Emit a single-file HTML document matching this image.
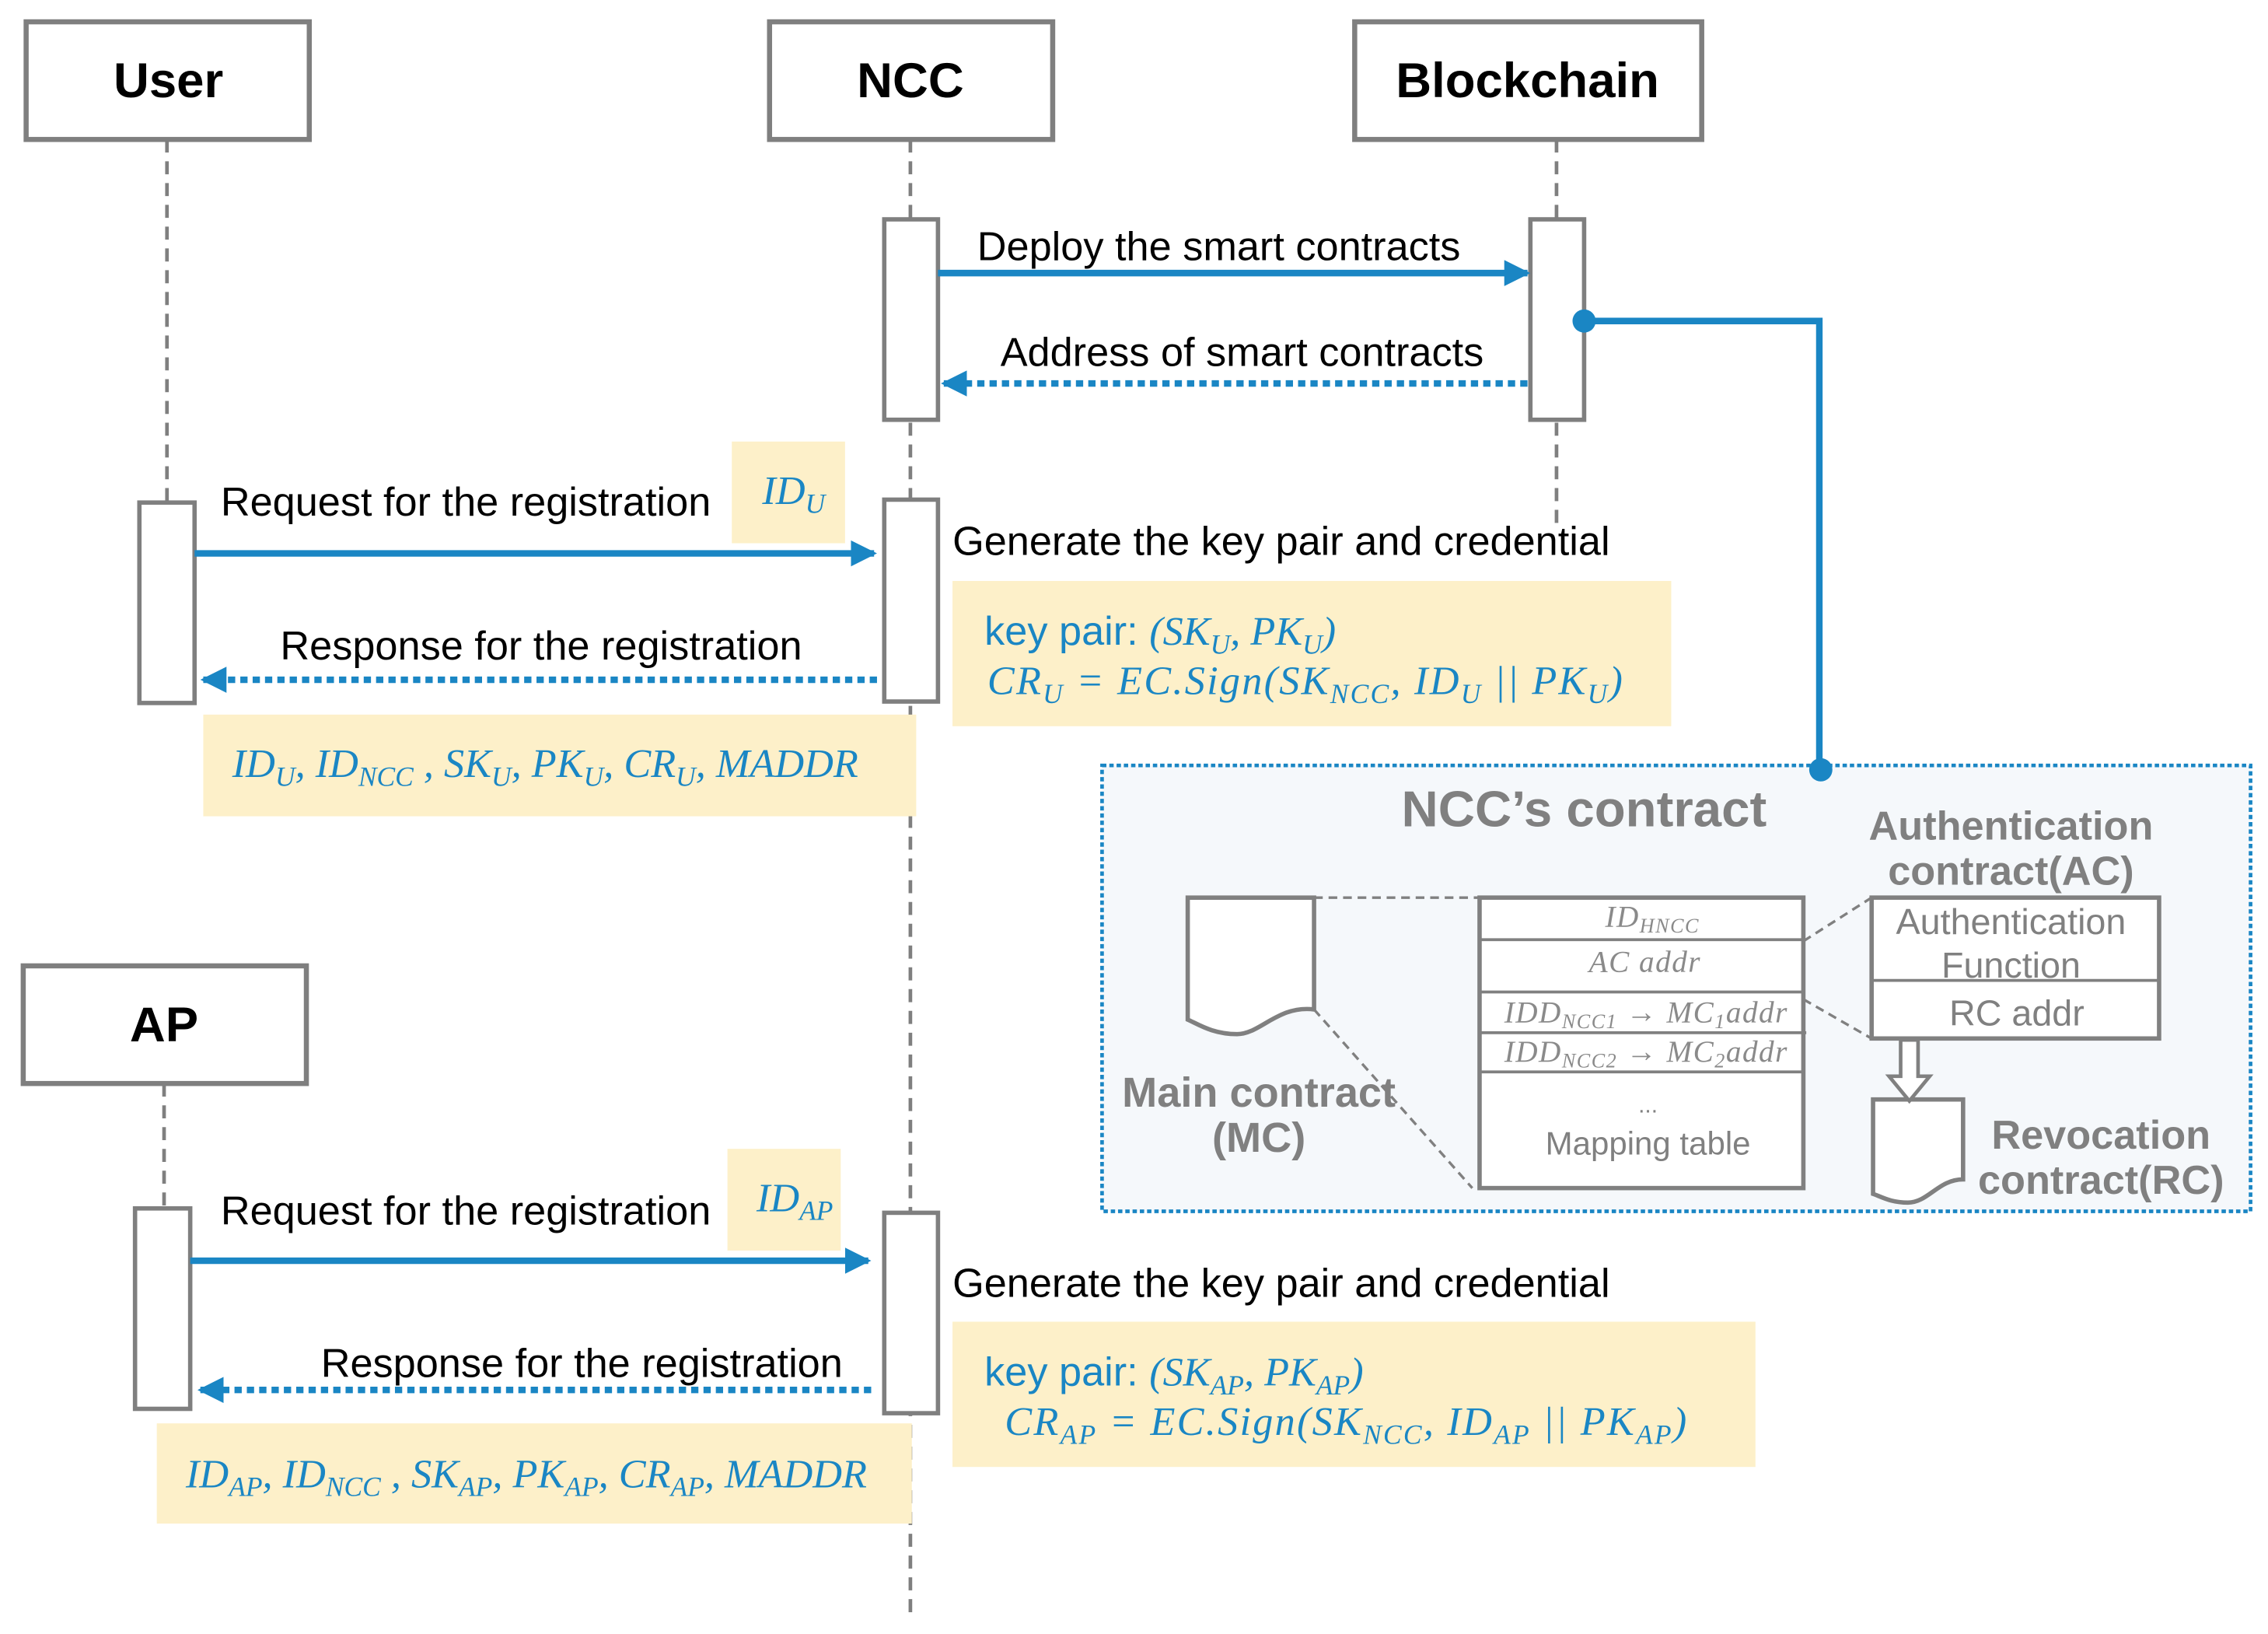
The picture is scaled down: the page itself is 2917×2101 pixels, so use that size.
<!DOCTYPE html>
<html><head><meta charset="utf-8"><style>
html,body{margin:0;padding:0;background:#fff;}
svg{display:block;}
.lbl{font-family:"Liberation Sans",sans-serif;font-size:28px;fill:#000;}
.ttl{font-family:"Liberation Sans",sans-serif;font-size:34px;font-weight:bold;fill:#000;}
.m{font-family:"Liberation Serif",serif;font-style:italic;font-size:28px;fill:#1a86c4;letter-spacing:1.2px;}
.m0{font-family:"Liberation Serif",serif;font-style:italic;font-size:28px;fill:#1a86c4;letter-spacing:0;}
.bl{font-family:"Liberation Sans",sans-serif;font-size:28px;fill:#1a86c4;font-style:normal;letter-spacing:0;}
.g{font-family:"Liberation Sans",sans-serif;fill:#808080;}
.gm{font-family:"Liberation Serif",serif;font-style:italic;fill:#8a8a8a;font-size:21px;letter-spacing:0.8px;}
</style></head><body>
<svg width="2917" height="2101" viewBox="0 0 1562 1125" xmlns="http://www.w3.org/2000/svg">
<defs>
<marker id="ah2" markerWidth="18" markerHeight="18" refX="16" refY="9" orient="auto" markerUnits="userSpaceOnUse" viewBox="0 0 18 18">
<path d="M0,0 L18,9 L0,18 z" fill="#1a86c4"/></marker>
</defs>
<rect width="1562" height="1125" fill="#fff"/>

<g stroke="#7f7f7f" stroke-width="2.5" stroke-dasharray="9,6" fill="none">
<line x1="115" y1="96" x2="115" y2="346"/>
<line x1="627" y1="96" x2="627" y2="1115"/>
<line x1="1072" y1="96" x2="1072" y2="365"/>
<line x1="113" y1="746" x2="113" y2="832"/>
</g>

<g stroke="#7f7f7f" stroke-width="3.5" fill="#fff">
<rect x="18" y="15" width="195" height="81"/>
<rect x="530" y="15" width="195" height="81"/>
<rect x="933" y="15" width="239" height="81"/>
<rect x="16" y="665" width="195" height="81"/>
</g>
<text class="ttl" x="116" y="67" text-anchor="middle">User</text>
<text class="ttl" x="627" y="67" text-anchor="middle">NCC</text>
<text class="ttl" x="1052" y="67" text-anchor="middle">Blockchain</text>
<text class="ttl" x="113" y="717" text-anchor="middle">AP</text>

<g fill="#fdf0c9">
<rect x="504" y="304" width="78" height="70"/>
<rect x="656" y="400" width="495" height="100"/>
<rect x="140" y="492" width="491" height="70"/>
<rect x="501" y="791" width="78" height="70"/>
<rect x="656" y="910" width="553" height="100"/>
<rect x="108" y="980" width="520" height="69"/>
</g>

<g stroke="#7f7f7f" stroke-width="3" fill="#fff">
<rect x="609" y="151" width="37" height="138"/>
<rect x="1054" y="151" width="37" height="138"/>
<rect x="96" y="346" width="38" height="138"/>
<rect x="609" y="344" width="37" height="139"/>
<rect x="93" y="832" width="38" height="138"/>
<rect x="609" y="835" width="37" height="138"/>
</g>

<g stroke="#1a86c4" stroke-width="4.5" fill="none">
<line x1="646" y1="188" x2="1052" y2="188" marker-end="url(#ah2)"/>
<line x1="1052" y1="264" x2="650" y2="264" stroke-dasharray="5,3.5" marker-end="url(#ah2)"/>
<line x1="134" y1="381" x2="602" y2="381" marker-end="url(#ah2)"/>
<line x1="604" y1="468" x2="140" y2="468" stroke-dasharray="5,3.5" marker-end="url(#ah2)"/>
<line x1="131" y1="868" x2="598" y2="868" marker-end="url(#ah2)"/>
<line x1="600" y1="957" x2="138" y2="957" stroke-dasharray="5,3.5" marker-end="url(#ah2)"/>
</g>

<text class="lbl" x="673" y="179">Deploy the smart contracts</text>
<text class="lbl" x="689" y="252">Address of smart contracts</text>
<text class="lbl" x="152" y="355">Request for the registration</text>
<text class="lbl" x="656" y="382">Generate the key pair and credential</text>
<text class="lbl" x="193" y="454">Response for the registration</text>
<text class="lbl" x="152" y="843">Request for the registration</text>
<text class="lbl" x="656" y="893">Generate the key pair and credential</text>
<text class="lbl" x="221" y="948">Response for the registration</text>

<text class="m0" x="525" y="347">ID<tspan font-size="19" dy="6">U</tspan></text>
<text class="m0" x="521" y="834">ID<tspan font-size="19" dy="6">AP</tspan></text>
<text x="678" y="444"><tspan class="bl">key pair: </tspan><tspan class="m0">(SK<tspan font-size="19" dy="6">U</tspan><tspan dy="-6">, PK</tspan><tspan font-size="19" dy="6">U</tspan><tspan dy="-6">)</tspan></tspan></text>
<text class="m" x="680" y="478">CR<tspan font-size="19" dy="6">U</tspan><tspan dy="-6">  =  EC.Sign(SK</tspan><tspan font-size="19" dy="6">NCC</tspan><tspan dy="-6">, ID</tspan><tspan font-size="19" dy="6">U</tspan><tspan dy="-6"> || PK</tspan><tspan font-size="19" dy="6">U</tspan><tspan dy="-6">)</tspan></text>
<text class="m0" x="160" y="535">ID<tspan font-size="19" dy="6">U</tspan><tspan dy="-6">, ID</tspan><tspan font-size="19" dy="6">NCC</tspan><tspan dy="-6"> , SK</tspan><tspan font-size="19" dy="6">U</tspan><tspan dy="-6">, PK</tspan><tspan font-size="19" dy="6">U</tspan><tspan dy="-6">, CR</tspan><tspan font-size="19" dy="6">U</tspan><tspan dy="-6">, MADDR</tspan></text>
<text x="678" y="954"><tspan class="bl">key pair: </tspan><tspan class="m0">(SK<tspan font-size="19" dy="6">AP</tspan><tspan dy="-6">, PK</tspan><tspan font-size="19" dy="6">AP</tspan><tspan dy="-6">)</tspan></tspan></text>
<text class="m" x="692" y="988">CR<tspan font-size="19" dy="6">AP</tspan><tspan dy="-6">  =  EC.Sign(SK</tspan><tspan font-size="19" dy="6">NCC</tspan><tspan dy="-6">, ID</tspan><tspan font-size="19" dy="6">AP</tspan><tspan dy="-6"> || PK</tspan><tspan font-size="19" dy="6">AP</tspan><tspan dy="-6">)</tspan></text>
<text class="m0" x="128" y="1024">ID<tspan font-size="19" dy="6">AP</tspan><tspan dy="-6">, ID</tspan><tspan font-size="19" dy="6">NCC</tspan><tspan dy="-6"> , SK</tspan><tspan font-size="19" dy="6">AP</tspan><tspan dy="-6">, PK</tspan><tspan font-size="19" dy="6">AP</tspan><tspan dy="-6">, CR</tspan><tspan font-size="19" dy="6">AP</tspan><tspan dy="-6">, MADDR</tspan></text>

<rect x="759" y="527" width="791" height="307" fill="#f5f8fb" stroke="#1a86c4" stroke-width="2.5" stroke-dasharray="3,2"/>
<polyline points="1091,221 1253,221 1253,530" fill="none" stroke="#1a86c4" stroke-width="4.5"/>
<circle cx="1091" cy="221" r="8" fill="#1a86c4"/>
<circle cx="1254" cy="530" r="8" fill="#1a86c4"/>

<text class="g" x="1091" y="569" font-size="35" font-weight="bold" text-anchor="middle">NCC’s contract</text>
<text class="g" x="1385" y="578" font-size="28" font-weight="bold" text-anchor="middle">Authentication</text>
<text class="g" x="1385" y="609" font-size="28" font-weight="bold" text-anchor="middle">contract(AC)</text>
<text class="g" x="867" y="762" font-size="29" font-weight="bold" text-anchor="middle">Main contract</text>
<text class="g" x="867" y="793" font-size="29" font-weight="bold" text-anchor="middle">(MC)</text>
<text class="g" x="1447" y="791" font-size="28" font-weight="bold" text-anchor="middle">Revocation</text>
<text class="g" x="1447" y="822" font-size="28" font-weight="bold" text-anchor="middle">contract(RC)</text>

<path d="M818,618 L905,618 L905,695 C880,692 868,712 852,712 C835,712 825,705 818,702 Z" fill="#fff" stroke="#808080" stroke-width="3"/>
<path d="M1290,757 L1352,757 L1352,812 C1335,812 1328,828 1314,828 C1302,828 1296,824 1290,822 Z" fill="#fff" stroke="#808080" stroke-width="3"/>

<g stroke="#808080" stroke-width="1.8" stroke-dasharray="6,4" fill="none">
<line x1="905" y1="618" x2="1019" y2="618"/>
<line x1="905" y1="695" x2="1014" y2="818"/>
<line x1="1242" y1="648" x2="1289" y2="618"/>
<line x1="1242" y1="688" x2="1289" y2="715"/>
</g>

<rect x="1019" y="618" width="223" height="200" fill="#fff" stroke="#808080" stroke-width="3"/>
<g stroke="#808080" stroke-width="2">
<line x1="1019" y1="647" x2="1242" y2="647"/>
<line x1="1019" y1="683" x2="1242" y2="683"/>
<line x1="1019" y1="711" x2="1244" y2="711"/>
<line x1="1019" y1="738" x2="1242" y2="738"/>
</g>
<text class="gm" x="1138" y="638" text-anchor="middle">ID<tspan font-size="14" dy="4">HNCC</tspan></text>
<text class="gm" x="1133" y="669" text-anchor="middle">AC addr</text>
<text class="gm" x="1036" y="704">IDD<tspan font-size="14" dy="4">NCC1</tspan><tspan dy="-4"> → MC</tspan><tspan font-size="14" dy="4">1</tspan><tspan dy="-4">addr</tspan></text>
<text class="gm" x="1036" y="731">IDD<tspan font-size="14" dy="4">NCC2</tspan><tspan dy="-4"> → MC</tspan><tspan font-size="14" dy="4">2</tspan><tspan dy="-4">addr</tspan></text>
<text class="g" x="1135" y="766" font-size="16" text-anchor="middle">...</text>
<text class="g" x="1135" y="795" font-size="22.5" text-anchor="middle">Mapping table</text>

<rect x="1289" y="618" width="198" height="97" fill="#fff" stroke="#808080" stroke-width="3"/>
<line x1="1289" y1="675" x2="1487" y2="675" stroke="#808080" stroke-width="2"/>
<text class="g" x="1385" y="643" font-size="25" text-anchor="middle">Authentication</text>
<text class="g" x="1385" y="673" font-size="25" text-anchor="middle">Function</text>
<text class="g" x="1389" y="706" font-size="25" text-anchor="middle">RC addr</text>

<path d="M1309,716 L1321,716 L1321,741 L1329,741 L1315,758 L1301,741 L1309,741 Z" fill="#fff" stroke="#808080" stroke-width="2.5"/>
</svg>
</body></html>
